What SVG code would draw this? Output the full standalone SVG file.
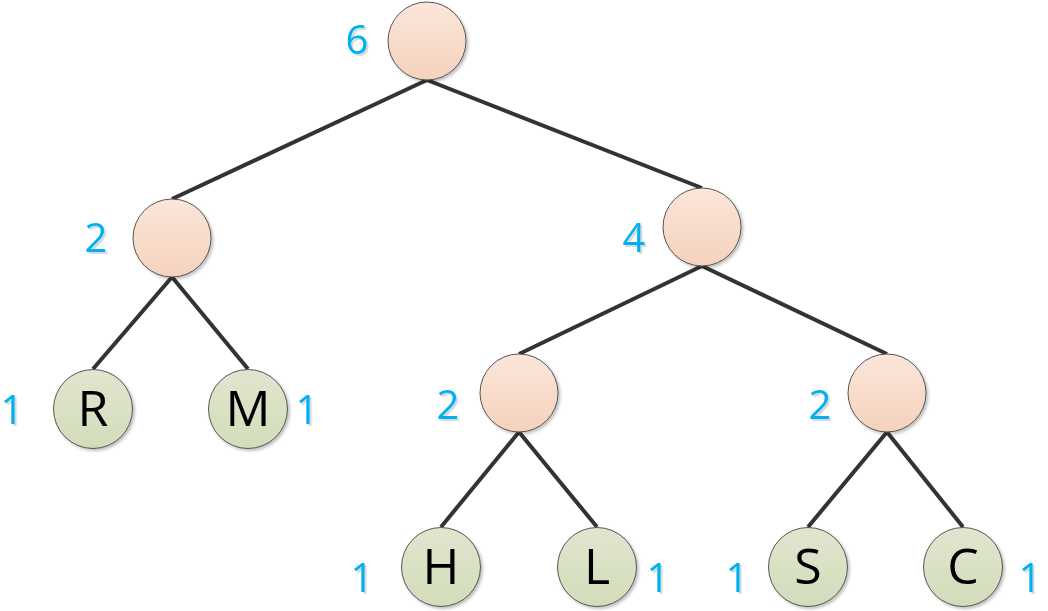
<svg xmlns="http://www.w3.org/2000/svg" width="1048" height="611" viewBox="0 0 1048 611">
<defs>
<linearGradient id="go" x1="0" y1="0" x2="0" y2="1"><stop offset="0" stop-color="#FBE6DA"/><stop offset="1" stop-color="#F5D2BC"/></linearGradient>
<linearGradient id="gg" x1="0" y1="0" x2="0" y2="1"><stop offset="0" stop-color="#E0E6CF"/><stop offset="1" stop-color="#D3DCBA"/></linearGradient>
<filter id="sh" x="-20%" y="-20%" width="150%" height="150%"><feGaussianBlur in="SourceAlpha" stdDeviation="1.5"/><feOffset dx="2" dy="2"/><feComponentTransfer><feFuncA type="linear" slope="0.25"/></feComponentTransfer><feMerge><feMergeNode/><feMergeNode in="SourceGraphic"/></feMerge></filter>
<filter id="ts" x="-20%" y="-20%" width="150%" height="150%"><feOffset in="SourceAlpha" dx="2" dy="2"/><feComponentTransfer><feFuncA type="linear" slope="0.15"/></feComponentTransfer><feMerge><feMergeNode/><feMergeNode in="SourceGraphic"/></feMerge></filter>
</defs>
<style>
.e{stroke:#333;stroke-width:4;fill:none}
.o{fill:url(#go);stroke:#555;stroke-width:1;filter:url(#sh)}
.g{fill:url(#gg);stroke:#555;stroke-width:1;filter:url(#sh)}
.n{font-family:"Open Sans","Liberation Sans",sans-serif;font-size:40px;fill:#00B0F0;text-anchor:middle;dominant-baseline:central;filter:url(#ts)}
.l{font-family:"Open Sans","Liberation Sans",sans-serif;font-size:50px;fill:#000;text-anchor:middle;dominant-baseline:central}
</style>
<g id="connectors">
<path class="e" d="M427 80 L172 199 M427 80 L702 188"/>
<path class="e" d="M172 277 L93 369 M172 277 L248 369"/>
<path class="e" d="M702 266 L519 354 M702 266 L887 354"/>
<path class="e" d="M519 432 L441 527 M519 432 L597 527"/>
<path class="e" d="M887 432 L808 527 M887 432 L963 527"/>
</g>
<g id="root"><circle class="o" cx="427" cy="41" r="39"/><text class="n" x="357" y="38">6</text></g>
<g id="n2a"><circle class="o" cx="172" cy="238" r="39"/><text class="n" x="96" y="236">2</text></g>
<g id="n4"><circle class="o" cx="702" cy="227" r="39"/><text class="n" x="634" y="236">4</text></g>
<g id="n2b"><circle class="o" cx="519" cy="393" r="39"/><text class="n" x="448" y="403">2</text></g>
<g id="n2c"><circle class="o" cx="887" cy="393" r="39"/><text class="n" x="820" y="403">2</text></g>
<g id="R"><circle class="g" cx="93" cy="409" r="39.5"/><text class="l" x="93" y="407">R</text><text class="n" x="12" y="408">1</text></g>
<g id="M"><circle class="g" cx="248" cy="409" r="39.5"/><text class="l" x="248" y="407">M</text><text class="n" x="307" y="408">1</text></g>
<g id="H"><circle class="g" cx="441" cy="567" r="39.5"/><text class="l" x="441" y="565">H</text><text class="n" x="362" y="576">1</text></g>
<g id="L"><circle class="g" cx="597" cy="567" r="39.5"/><text class="l" x="597" y="565">L</text><text class="n" x="658" y="576">1</text></g>
<g id="S"><circle class="g" cx="808" cy="567" r="39.5"/><text class="l" x="808" y="565">S</text><text class="n" x="737" y="576">1</text></g>
<g id="C"><circle class="g" cx="963" cy="567" r="39.5"/><text class="l" x="963" y="565">C</text><text class="n" x="1030" y="576">1</text></g>
</svg>
